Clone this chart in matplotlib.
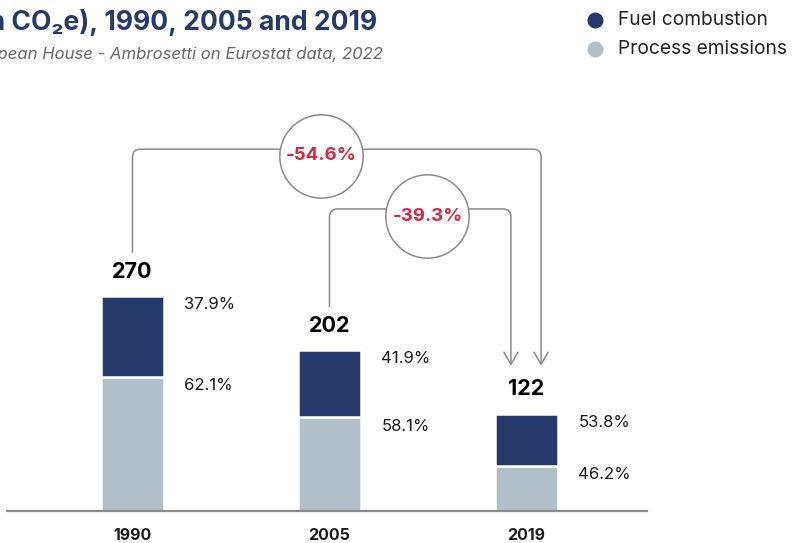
import matplotlib.pyplot as plt
from matplotlib.path import Path
from matplotlib.patches import PathPatch

plt.rcParams['font.family'] = ['Inter', 'DejaVu Sans']

# data
years = ['1990', '2005', '2019']
totals = [270, 202, 122]
fuel_share = [37.9, 41.9, 53.8]
process_share = [62.1, 58.1, 46.2]
changes = ['-54.6%', '-39.3%']

NAVY = '#253a6a'
LIGHT = '#b3bfc8'
LINE = '#8a8a8a'
RED = '#d42a40'

W, H = 795, 543
fig = plt.figure(figsize=(W / 100, H / 100), dpi=100)
ax = fig.add_axes([0, 0, 1, 1])

# pixel scale of the plot area
px_x = 197.0      # pixels per category step
px_y = 0.797      # pixels per Mton
x_left = 132.5    # pixel x of the first bar centre
y_base = 511.0    # pixel y (from top) of the baseline
ax.set_xlim(-x_left / px_x, (W - x_left) / px_x)
ax.set_ylim((y_base - H) / px_y, y_base / px_y)
ax.axis('off')

x = list(range(len(years)))
process = [t * s / 100 for t, s in zip(totals, process_share)]
fuel = [t * s / 100 for t, s in zip(totals, fuel_share)]

bw = 0.322
ax.bar(x, process, width=bw, color=LIGHT, edgecolor='white', linewidth=1.8, zorder=2)
ax.bar(x, fuel, width=bw, bottom=process, color=NAVY, edgecolor='white', linewidth=1.8, zorder=2)
ax.axhline(0, xmin=7 / W, xmax=647 / W, color=LINE, lw=1.6, zorder=3)

for i in x:
    ax.annotate(str(totals[i]), (i, totals[i]), xytext=(0, 17.5), textcoords='offset points',
                ha='center', va='center', fontsize=15.5, fontweight='bold', color='black')
    ax.annotate(f'{fuel_share[i]}%', (i + bw / 2, totals[i]), xytext=(14.4, -0.8),
                textcoords='offset points', ha='left', va='top', fontsize=12, color='#1a1a1a')
    ax.annotate(f'{process_share[i]}%', (i + bw / 2, process[i]), xytext=(14.4, -0.8),
                textcoords='offset points', ha='left', va='top', fontsize=12, color='#1a1a1a')
    ax.annotate(years[i], (i, 0), xytext=(0, -17.6), textcoords='offset points',
                ha='center', va='center', fontsize=11.5, fontweight='bold', color='#1a1a1a')


def bracket(x0, y0, x1, y1, ytop, r=8):
    rx, ry = r / px_x, r / px_y
    verts = [(x0, y0), (x0, ytop - ry), (x0, ytop), (x0 + rx, ytop),
             (x1 - rx, ytop), (x1, ytop), (x1, ytop - ry), (x1, y1)]
    codes = [Path.MOVETO, Path.LINETO, Path.CURVE3, Path.CURVE3,
             Path.LINETO, Path.CURVE3, Path.CURVE3, Path.LINETO]
    ax.add_patch(PathPatch(Path(verts, codes), fill=False, edgecolor=LINE, lw=1.1, zorder=3))
    # open arrow head
    dx, dy = 7 / px_x, 12 / px_y
    ax.plot([x1 - dx, x1, x1 + dx], [y1 + dy, y1, y1 + dy], color=LINE, lw=1.1,
            solid_joinstyle='miter', zorder=3)


tip = totals[2] + 62
bracket(0, totals[0] + 54, 2 + 0.074, tip, 454)
bracket(1, totals[1] + 54, 2 - 0.079, tip, 379)

# change bubbles
bubbles = [(0.959, 446), (1.497, 370)]
for (bx, by), label in zip(bubbles, changes):
    ax.scatter([bx], [by], s=3600, facecolor='white', edgecolor=LINE, linewidth=1.1, zorder=4)
    ax.text(bx, by, label, ha='center', va='center', fontsize=13.5, fontweight='bold',
            color=RED, zorder=5)

# title and source, partly running off the left edge
fig.text(377 / W, 1 - 30 / H, '(Mton CO₂e), 1990, 2005 and 2019', ha='right', va='baseline',
         fontsize=19.1, fontweight='bold', color=NAVY)
fig.text(383 / W, 1 - 55 / H, 'Source: The European House - Ambrosetti on Eurostat data, 2022',
         ha='right', va='center', fontsize=12.0, style='italic', color='#666666')

# legend
for yy, col, lab in [(20, NAVY, 'Fuel combustion'), (48.5, LIGHT, 'Process emissions')]:
    fig.lines.append(plt.Line2D([595 / W], [1 - yy / H], marker='o', markersize=10.5,
                                color=col, transform=fig.transFigure, linestyle='none'))
    fig.text(618 / W, 1 - yy / H, lab, ha='left', va='center', fontsize=13.8, color='#222222')

fig.savefig('out.png', dpi=100)
